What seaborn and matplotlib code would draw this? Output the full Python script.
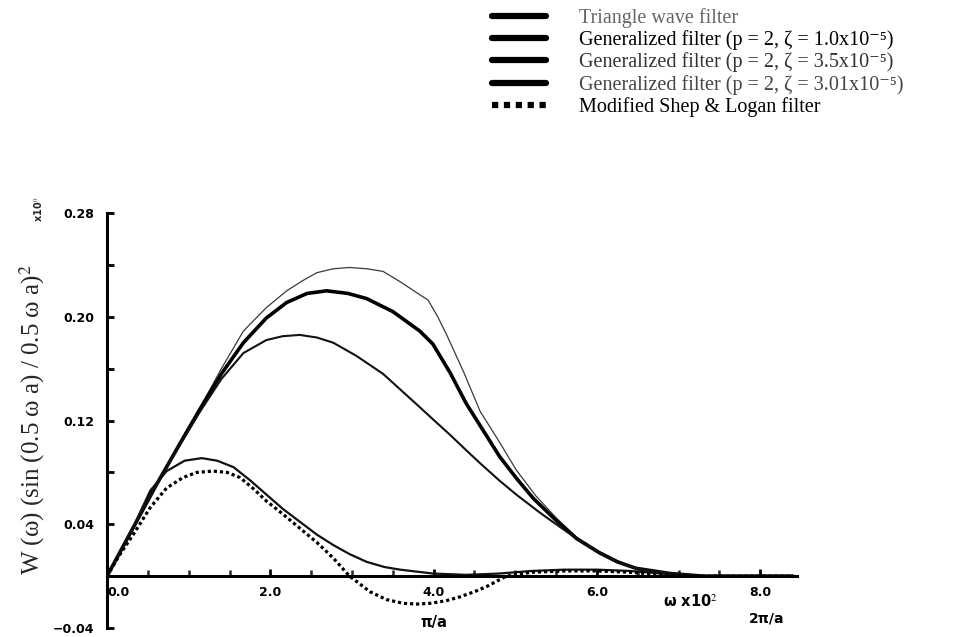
import matplotlib
matplotlib.use("Agg")
import matplotlib.pyplot as plt
import seaborn as sns
import numpy as np
import pandas as pd
from matplotlib.lines import Line2D

sns.set_theme(style="white")
plt.rcParams['font.family'] = ['DejaVu Sans']
plt.rcParams['mathtext.fontset'] = 'stix'

# ---- data ----
tri_x = [0.0, 0.3, 0.6, 0.9, 1.14, 1.4, 1.67, 1.95, 2.20, 2.40, 2.57, 2.77, 2.97, 3.18, 3.38, 3.59, 3.83, 3.93,
         4.05, 4.16, 4.37, 4.57, 4.80, 5.01, 5.25, 5.50, 5.75, 6.03, 6.25, 6.48, 6.9, 7.3, 7.8, 8.4]
tri_y = [0.0, 0.035, 0.070, 0.103, 0.130, 0.160, 0.189, 0.207, 0.220, 0.228, 0.234, 0.237, 0.238, 0.237, 0.235, 0.227, 0.217, 0.213,
         0.200, 0.186, 0.157, 0.127, 0.104, 0.082, 0.062, 0.045, 0.030, 0.019, 0.012, 0.006, 0.002, 0.0, 0.0, 0.0]

g1_x = [0.0, 0.3, 0.6, 0.9, 1.14, 1.4, 1.67, 1.95, 2.20, 2.45, 2.69, 2.95, 3.18, 3.50, 3.83, 3.99,
        4.20, 4.40, 4.57, 4.81, 5.02, 5.22, 5.50, 5.75, 6.03, 6.25, 6.48, 6.9, 7.3, 7.8, 8.4]
g1_y = [0.0, 0.035, 0.070, 0.103, 0.129, 0.156, 0.180, 0.199, 0.211, 0.218, 0.220, 0.218, 0.214, 0.204, 0.189, 0.179,
        0.157, 0.133, 0.116, 0.092, 0.075, 0.060, 0.043, 0.029, 0.018, 0.011, 0.006, 0.002, 0.0, 0.0, 0.0]

g35_x = [0.0, 0.3, 0.6, 0.9, 1.14, 1.4, 1.67, 1.95, 2.15, 2.36, 2.57, 2.77, 3.05, 3.38, 3.59, 3.80, 3.99,
         4.20, 4.40, 4.57, 4.80, 5.01, 5.30, 5.50, 5.75, 6.03, 6.25, 6.48, 6.9, 7.3, 7.8, 8.4]
g35_y = [0.0, 0.035, 0.070, 0.102, 0.127, 0.152, 0.172, 0.182, 0.185, 0.186, 0.184, 0.180, 0.170, 0.156, 0.144, 0.132, 0.121,
         0.109, 0.097, 0.087, 0.074, 0.063, 0.049, 0.040, 0.029, 0.018, 0.011, 0.006, 0.002, 0.0, 0.0, 0.0]

g301_x = [0.0, 0.15, 0.3, 0.53, 0.73, 0.95, 1.16, 1.35, 1.55, 1.75, 1.95, 2.15, 2.36, 2.57, 2.77, 2.97, 3.18,
          3.40, 3.59, 3.99, 4.40, 4.80, 5.20, 5.60, 6.00, 6.40, 6.80, 7.3, 7.8, 8.4]
g301_y = [0.0, 0.018, 0.035, 0.066, 0.081, 0.089, 0.091, 0.089, 0.084, 0.074, 0.063, 0.052, 0.042, 0.032, 0.024, 0.017, 0.011,
          0.007, 0.005, 0.002, 0.001, 0.002, 0.004, 0.005, 0.005, 0.004, 0.002, 0.0, 0.0, 0.0]

msl_x = [0.0, 0.15, 0.32, 0.53, 0.73, 0.93, 1.10, 1.30, 1.47, 1.63, 1.80, 1.95, 2.15, 2.36, 2.57, 2.77, 2.97, 3.22,
         3.42, 3.63, 3.80, 3.95, 4.15, 4.32, 4.50, 4.65, 4.89, 5.20, 5.60, 6.00, 6.40, 6.80, 7.3, 7.8, 8.4]
msl_y = [0.0, 0.016, 0.032, 0.053, 0.068, 0.076, 0.080, 0.081, 0.080, 0.076, 0.067, 0.058, 0.048, 0.037, 0.026, 0.014, 0.0, -0.012,
         -0.018, -0.021, -0.0215, -0.021, -0.019, -0.016, -0.012, -0.008, 0.0, 0.003, 0.004, 0.004, 0.003, 0.001, 0.0, 0.0, 0.0]

labels = ["Triangle wave filter",
          "Generalized filter (p = 2, \u03b6 = 1.0x10\u207b\u2075)",
          "Generalized filter (p = 2, \u03b6 = 3.5x10\u207b\u2075)",
          "Generalized filter (p = 2, \u03b6 = 3.01x10\u207b\u2075)",
          "Modified Shep & Logan filter"]

ytick_vals = [-0.04, 0.0, 0.04, 0.08, 0.12, 0.16, 0.20, 0.24, 0.28]
ytick_labels = ["\u22120.04", "", "0.04", "", "0.12", "", "0.20", "", "0.28"]
xtick_vals = [0.0, 2.0, 4.0, 6.0, 8.0]
xtick_labels = ["0.0", "2.0", "4.0", "6.0", "8.0"]

# ---- figure ----
fig = plt.figure(figsize=(9.67, 6.37), dpi=100)
ax = fig.add_axes([0.1107, 0.0141, 0.7135, 0.6515])

series = [(tri_x, tri_y, dict(color="#3a3a3a", linewidth=0.9)),
          (g1_x, g1_y, dict(color="black", linewidth=2.6)),
          (g35_x, g35_y, dict(color="#111111", linewidth=1.5)),
          (g301_x, g301_y, dict(color="#111111", linewidth=1.6)),
          (msl_x, msl_y, dict(color="black", linewidth=2.3, linestyle=(0, (1, 0.9))))]
for xs, ys, kw in series:
    sns.lineplot(x=xs, y=ys, ax=ax, sort=False, estimator=None, **kw)

ax.set_xlim(0, 8.45)
ax.set_ylim(-0.04, 0.28)
for s in ["top", "right"]:
    ax.spines[s].set_visible(False)
ax.spines["bottom"].set_position(("data", 0))
ax.spines["bottom"].set_linewidth(2.2)
ax.spines["left"].set_linewidth(2.2)
ax.spines["bottom"].set_color("black")
ax.spines["left"].set_color("black")
ax.patch.set_alpha(0)

ax.set_yticks(ytick_vals)
ax.set_yticklabels(ytick_labels)
ax.set_xticks(xtick_vals)
ax.set_xticklabels(xtick_labels)
ax.set_xticks(np.arange(0.5, 8.01, 0.5), minor=True)
ax.tick_params(axis="y", direction="in", length=5, width=2, pad=9, labelsize=9, colors="black")
ax.tick_params(axis="x", which="major", direction="in", length=5, width=2, pad=7, labelsize=9, colors="black")
ax.tick_params(axis="x", which="minor", direction="in", length=4, width=1.8, bottom=True)
ax.tick_params(left=True, bottom=True)
for t in ax.get_yticklabels() + ax.get_xticklabels():
    t.set_fontweight("heavy")
ax.get_xticklabels()[0].set_ha("left")
ax.grid(False)

bold = dict(fontweight="heavy", color="black")
ax.text(4.0, -0.0355, "π/a", ha="center", va="center", fontsize=10.5, **bold)
ax.text(7.15, -0.020, "ω x10$^2$", ha="center", va="center", fontsize=10.5, **bold)
ax.text(8.08, -0.033, "2π/a", ha="center", va="center", fontsize=10, **bold)

fig.text(0.04, 1 - 209 / 637, "x10$^0$", rotation=90, ha="center", va="center", fontsize=7, fontweight="heavy")
fig.text(0.033, 1 - 420 / 637, "W (ω) (sin (0.5 ω a) / 0.5 ω a)$^2$", rotation=90, ha="center", va="center",
         fontsize=18, family=["Liberation Serif", "DejaVu Serif"])

handles = [Line2D([], [], color="black", linewidth=4.5) for _ in range(4)]
handles.append(Line2D([], [], color="black", linewidth=4.5, linestyle=(0, (1, 0.9)), dash_capstyle="butt"))
leg = fig.legend(handles, labels, loc="upper left", bbox_to_anchor=(0.5088, 0.988), frameon=False,
                 prop={"family": ["Liberation Serif", "DejaVu Serif"], "size": 14.5},
                 handlelength=2.7, handletextpad=1.6, labelspacing=0.125, borderaxespad=0, borderpad=0)
cols = ["#666666", "black", "#333333", "#444444", "black"]
for t, c in zip(leg.get_texts(), cols):
    t.set_color(c)

fig.savefig("out.png", dpi=100)
